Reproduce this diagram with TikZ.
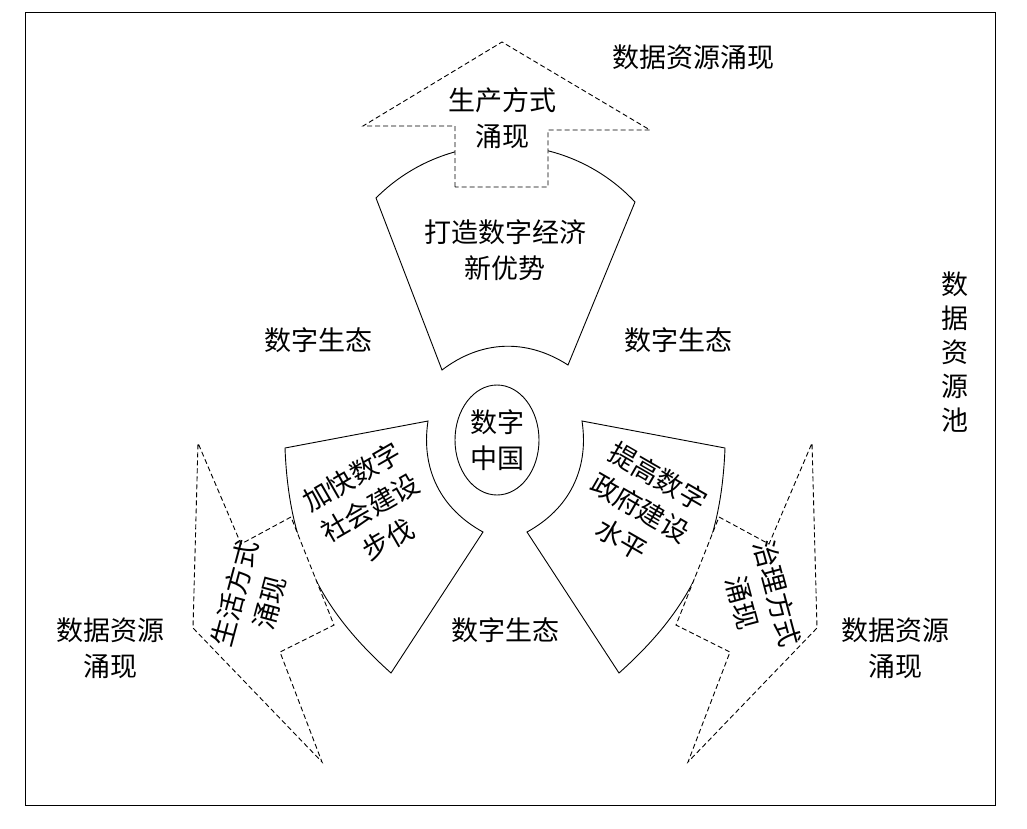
\documentclass[tikz,border=0pt]{standalone}
\usepackage{fontspec}
\setmainfont{Noto Sans CJK SC}
\usetikzlibrary{shapes.geometric}
\tikzset{
  sector/.style={draw, fill=white, line width=0.9pt},
  flow/.style={draw, fill=white, dash pattern=on 5pt off 3pt, line width=0.9pt},
  lbl/.style={font=\fontsize{27}{36}\selectfont, align=center, inner sep=0pt}
}
\begin{document}
\begin{tikzpicture}[x=1pt, y=-1pt]
		\useasboundingbox (0,0) rectangle (1027,828);
		\draw[line width=0.9pt] (25,12) rectangle (995,805);
		
		% the three sectors
		\filldraw[sector] (376,198) to[bend left=46] (635,202) -- (568,365) to[bend right=35] (442,370) -- cycle;
		\filldraw[sector] (285,448) -- (428,421) to[bend right=35] (483,532) -- (391,673) to[bend left=23] cycle;
		\filldraw[sector] (725,448) -- (582,421) to[bend left=35] (527,532) -- (619,673) to[bend right=23] cycle;
		
		% dashed arrows
		\filldraw[flow] (455,187) -- (455,126) -- (363,126) -- (502,42) -- (650,130) -- (548,130) -- (548,187) -- cycle;
		\filldraw[flow] (291,517) -- (241,544) -- (198,443) -- (193,628) -- (322,762) -- (280,652) -- (334,625) -- cycle;
		\filldraw[flow] (719,517) -- (769,544) -- (812,443) -- (817,628) -- (688,762) -- (730,652) -- (676,625) -- cycle;
		
		\node[draw, line width=0.9pt, ellipse, minimum width=84pt, minimum height=110pt, lbl] (china) at (497,440) {数字\\中国};
		
		\node[lbl] (economy) at (505,250) {打造数字经济\\新优势};
		\node[lbl, rotate=30] (society) at (370,508) {加快数字\\社会建设\\步伐};
		\node[lbl, rotate=-30] (govern) at (640,508) {提高数字\\政府建设\\水平};
		
		\node[lbl] (produce) at (502,118) {生产方式\\涌现};
		\node[lbl, rotate=75] (life) at (252,598) {生活方式\\涌现};
		\node[lbl, rotate=-75] (rule) at (760,598) {治理方式\\涌现};
		
		\node[lbl] (ecoA) at (318,340) {数字生态};
		\node[lbl] (ecoB) at (678,340) {数字生态};
		\node[lbl] (ecoC) at (505,630) {数字生态};
		
		\node[lbl] (poolTop) at (693,57) {数据资源涌现};
		\node[lbl] (poolLeft) at (110,648) {数据资源\\涌现};
		\node[lbl] (poolRight) at (895,648) {数据资源\\涌现};
		\node[lbl, font=\fontsize{27}{34}\selectfont] (pool) at (955,352) {数\\据\\资\\源\\池};
		
\end{tikzpicture}
\end{document}
